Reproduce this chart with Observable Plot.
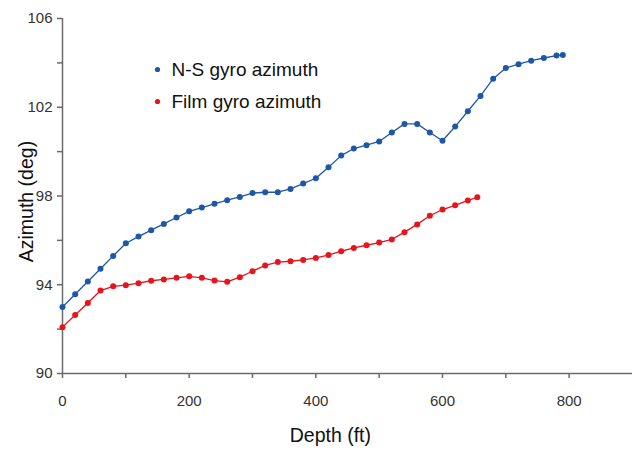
<!DOCTYPE html>
<html>
<head>
<meta charset="utf-8">
<script src="https://cdn.jsdelivr.net/npm/d3@7"></script>
<script src="https://cdn.jsdelivr.net/npm/@observablehq/plot@0.6"></script>
<style>
  html, body { margin: 0; padding: 0; background: #fff; }
  #chart { width: 632px; height: 454px; }
</style>
</head>
<body>
<div id="chart"></div>
<script>
// Depth (ft) and azimuth (deg) values
const nsDepth = [0,20,40,60,80,100,120,140,160,180,200,220,240,260,280,300,320,340,360,380,400,420,440,460,480,500,520,540,560,580,600,620,640,660,680,700,720,740,760,780,790];
const nsAzimuth = [93.0,93.57,94.15,94.72,95.30,95.87,96.17,96.46,96.74,97.03,97.31,97.48,97.65,97.81,97.96,98.13,98.17,98.17,98.32,98.56,98.80,99.30,99.82,100.14,100.29,100.46,100.86,101.25,101.25,100.86,100.49,101.13,101.82,102.51,103.29,103.77,103.94,104.10,104.22,104.33,104.36];

const filmDepth = [0,20,40,60,80,100,120,140,160,180,200,220,240,260,280,300,320,340,360,380,400,420,440,460,480,500,520,540,560,580,600,620,640,655];
const filmAzimuth = [92.09,92.64,93.18,93.74,93.93,93.98,94.07,94.18,94.24,94.31,94.38,94.31,94.19,94.13,94.34,94.61,94.87,95.02,95.06,95.12,95.21,95.34,95.51,95.66,95.78,95.90,96.04,96.37,96.72,97.11,97.39,97.58,97.80,97.94];

const seriesNames = ["N-S gyro azimuth", "Film gyro azimuth"];
const seriesColors = ["#1d57a6", "#e8141c"];

const xTicks = [0,100,200,300,400,500,600,700,800];
const yTicks = [90,92,94,96,98,100,102,104,106];
const xTitle = "Depth (ft)";
const yTitle = "Azimuth (deg)";

const ns = nsDepth.map((d, i) => ({depth: d, az: nsAzimuth[i]}));
const film = filmDepth.map((d, i) => ({depth: d, az: filmAzimuth[i]}));

const axisColor = "#6b6b6b";
const font = "'Liberation Sans', Arial, sans-serif";

const legendMarks = seriesNames.flatMap((name, i) => [
  Plot.dot([name], {frameAnchor: "top-left", dx: 95, dy: 51 + i * 32, fill: seriesColors[i], r: 2.6}),
  Plot.text([name], {frameAnchor: "top-left", dx: 109, dy: 51 + i * 32, text: d => d, textAnchor: "start", lineAnchor: "middle", fontSize: 19, fill: "#111"})
]);

const chart = Plot.plot({
  width: 632,
  height: 454,
  marginLeft: 62,
  marginRight: 0,
  marginTop: 18,
  marginBottom: 81,
  style: {fontFamily: font, background: "#fff"},
  x: {domain: [0, 900]},
  y: {domain: [90, 106]},
  marks: [
    Plot.ruleY([90], {stroke: axisColor, strokeWidth: 1.5}),
    Plot.ruleX([0], {stroke: axisColor, strokeWidth: 1.5}),
    Plot.axisX({
      ticks: xTicks,
      tickFormat: d => d % 200 === 0 ? String(d) : "",
      tickSize: 5,
      tickPadding: 17,
      stroke: axisColor,
      strokeWidth: 1.5,
      fill: "#333",
      fontSize: 15,
      label: null
    }),
    Plot.axisY({
      ticks: yTicks,
      tickFormat: d => d % 4 === 2 ? String(d) : "",
      tickSize: 5,
      tickPadding: 5,
      stroke: axisColor,
      strokeWidth: 1.5,
      fill: "#333",
      fontSize: 15,
      label: null
    }),
    Plot.line(ns, {x: "depth", y: "az", stroke: seriesColors[0], strokeWidth: 1.3}),
    Plot.dot(ns, {x: "depth", y: "az", r: 3, fill: seriesColors[0]}),
    Plot.line(film, {x: "depth", y: "az", stroke: seriesColors[1], strokeWidth: 1.3}),
    Plot.dot(film, {x: "depth", y: "az", r: 3, fill: seriesColors[1]}),
    // axis titles
    Plot.text([xTitle], {x: 423, frameAnchor: "bottom", dy: 68, text: d => d, fontSize: 19.5, fill: "#111"}),
    Plot.text([yTitle], {x: -57, y: 97.75, rotate: -90, text: d => d, fontSize: 19.5, fill: "#111"}),
    ...legendMarks
  ]
});

document.getElementById("chart").appendChild(chart);
</script>
</body>
</html>
